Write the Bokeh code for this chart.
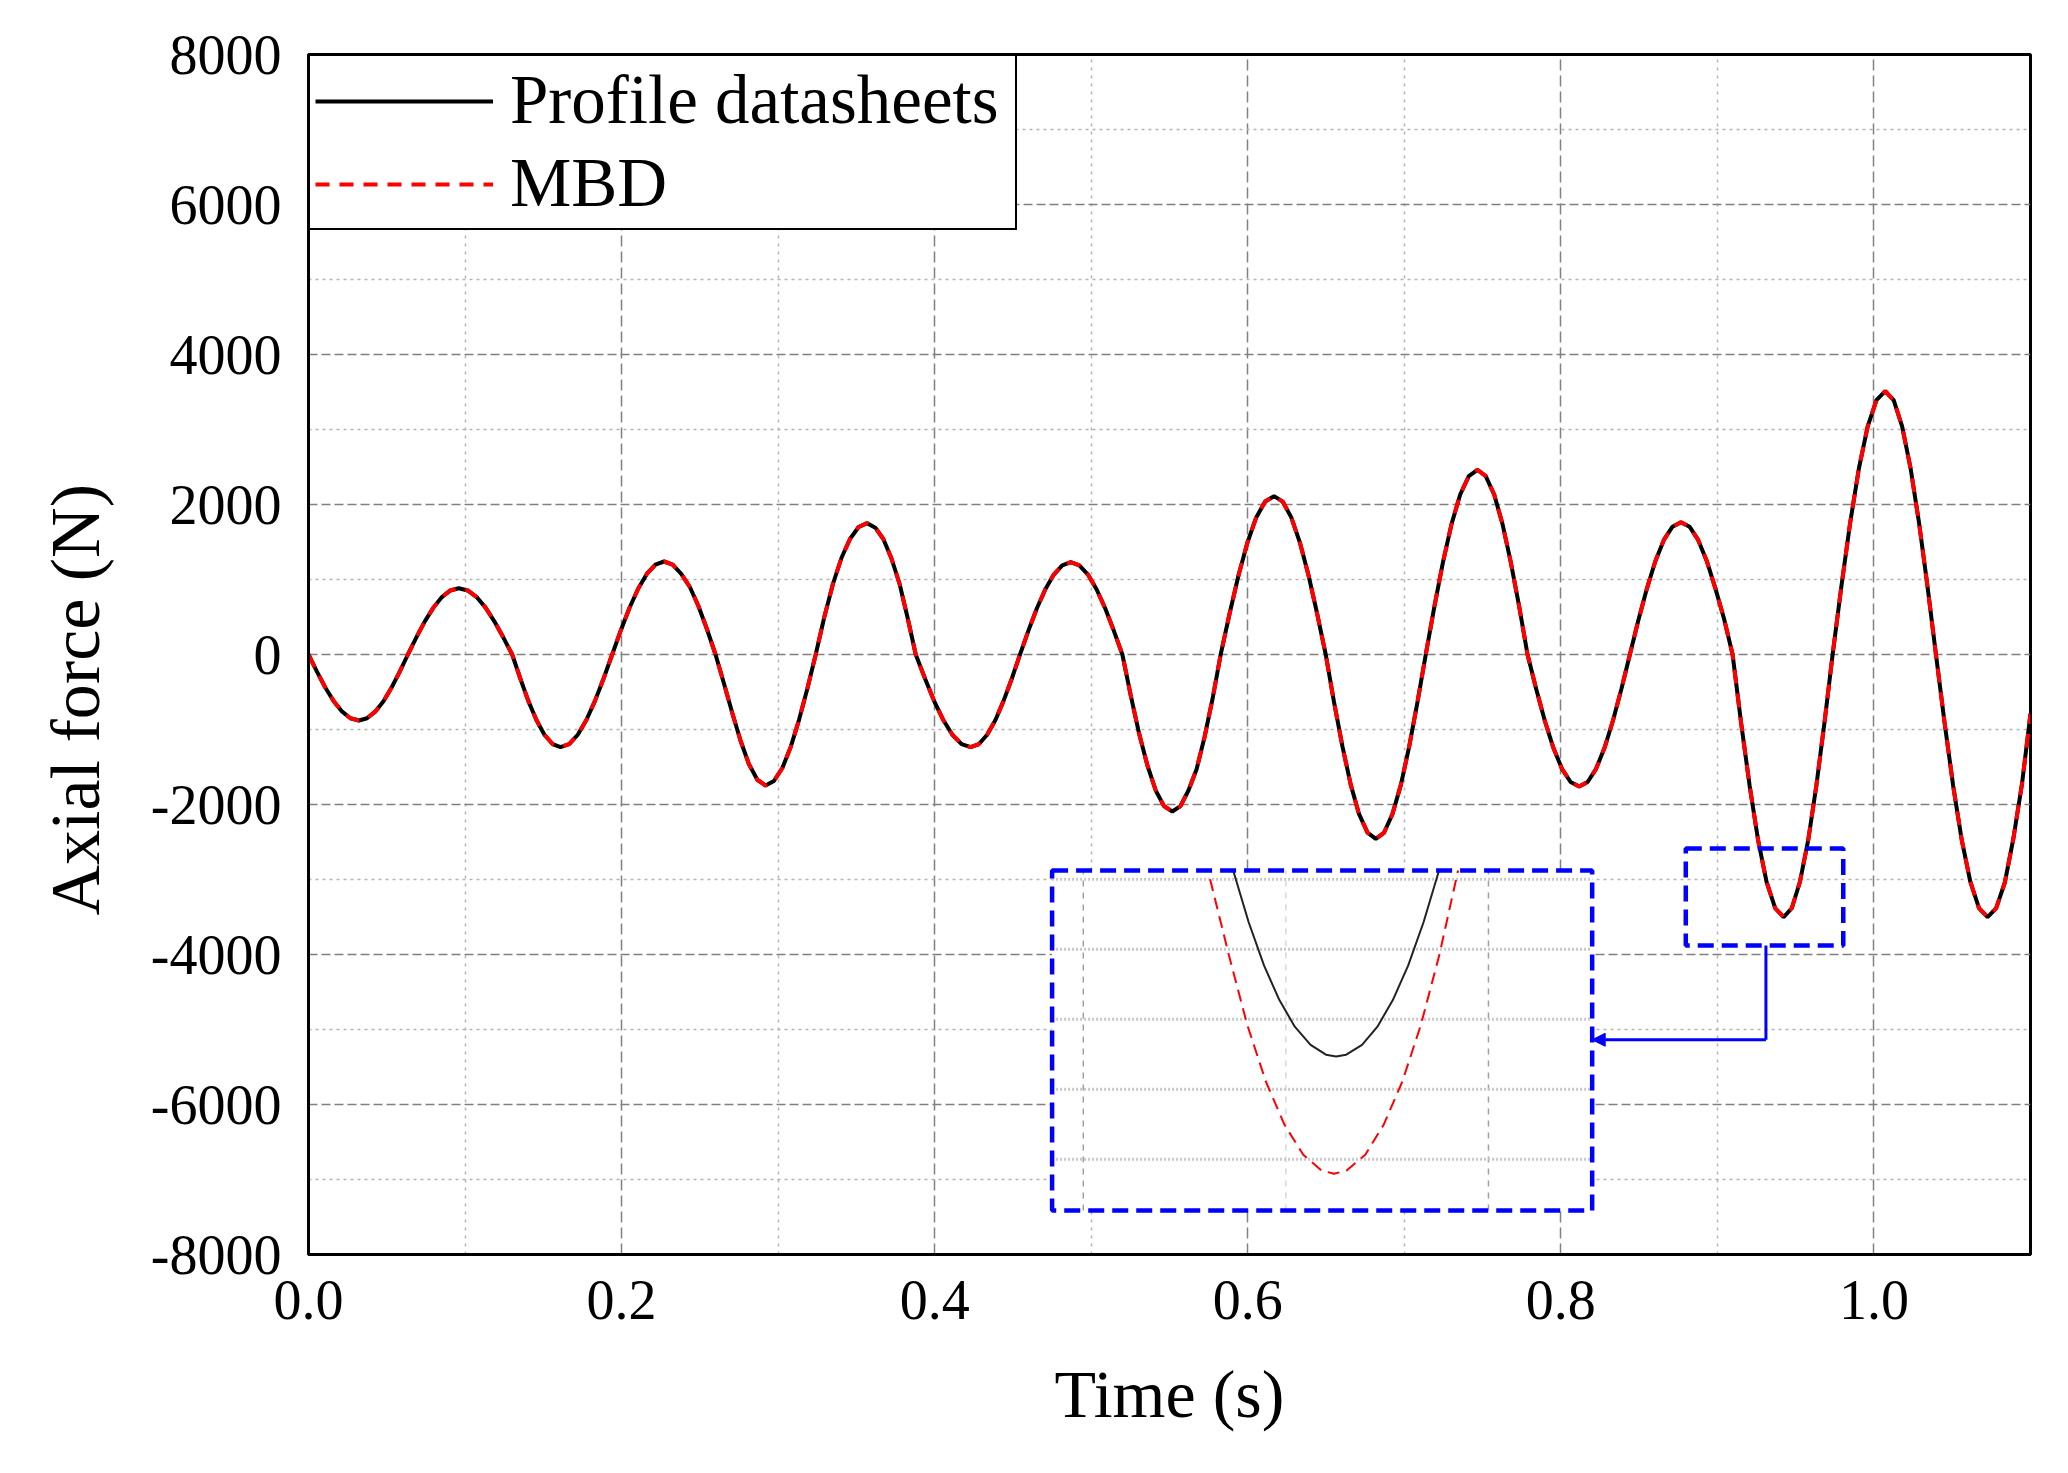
import numpy as np

from bokeh.plotting import figure
from bokeh.models import FixedTicker, PrintfTickFormatter, Range1d, Arrow, NormalHead, Title
from bokeh.embed import file_html
from bokeh.resources import INLINE

# ---- data ----
time_s = [0.0000, 0.0054, 0.0107, 0.0161, 0.0215, 0.0268, 0.0322,
          0.0374, 0.0426, 0.0479, 0.0531, 0.0583, 0.0635,
          0.0689, 0.0743, 0.0798, 0.0852, 0.0906, 0.0960,
          0.1017, 0.1074, 0.1131, 0.1187, 0.1244, 0.1301,
          0.1353, 0.1404, 0.1456, 0.1507, 0.1559, 0.1610,
          0.1665, 0.1720, 0.1775, 0.1830, 0.1885, 0.1940,
          0.1995, 0.2050, 0.2106, 0.2161, 0.2216, 0.2271,
          0.2326, 0.2381, 0.2436, 0.2490, 0.2545, 0.2600,
          0.2653, 0.2707, 0.2760, 0.2813, 0.2867, 0.2920,
          0.2973, 0.3027, 0.3080, 0.3133, 0.3187, 0.3240,
          0.3295, 0.3350, 0.3405, 0.3459, 0.3514, 0.3569,
          0.3621, 0.3672, 0.3724, 0.3776, 0.3827, 0.3879,
          0.3938, 0.3996, 0.4055, 0.4113, 0.4172, 0.4230,
          0.4283, 0.4335, 0.4388, 0.4440, 0.4493, 0.4545,
          0.4599, 0.4653, 0.4707, 0.4761, 0.4815, 0.4869,
          0.4924, 0.4979, 0.5034, 0.5089, 0.5144, 0.5199,
          0.5252, 0.5305, 0.5359, 0.5412, 0.5465, 0.5518,
          0.5570, 0.5621, 0.5673, 0.5724, 0.5776, 0.5827,
          0.5884, 0.5941, 0.5998, 0.6054, 0.6111, 0.6168,
          0.6223, 0.6278, 0.6333, 0.6388, 0.6443, 0.6498,
          0.6551, 0.6605, 0.6658, 0.6711, 0.6765, 0.6818,
          0.6871, 0.6924, 0.6978, 0.7031, 0.7084, 0.7137,
          0.7192, 0.7247, 0.7302, 0.7357, 0.7412, 0.7467,
          0.7520, 0.7574, 0.7627, 0.7680, 0.7734, 0.7787,
          0.7842, 0.7897, 0.7952, 0.8007, 0.8062, 0.8117,
          0.8171, 0.8225, 0.8279, 0.8333, 0.8387, 0.8441,
          0.8495, 0.8550, 0.8604, 0.8658, 0.8713, 0.8767,
          0.8822, 0.8877, 0.8932, 0.8987, 0.9042, 0.9097,
          0.9151, 0.9206, 0.9260, 0.9314, 0.9369, 0.9423,
          0.9475, 0.9527, 0.9580, 0.9632, 0.9684, 0.9736,
          0.9792, 0.9848, 0.9904, 0.9960, 1.0016, 1.0072,
          1.0126, 1.0180, 1.0234, 1.0288, 1.0342, 1.0396,
          1.0451, 1.0506, 1.0561, 1.0616, 1.0671, 1.0726,
          1.0781, 1.0836, 1.0891, 1.0946, 1.1000]

profile_force = [0, -228, -440, -622, -762, -850, -880,
                 -850, -762, -622, -440, -228, 0,
                 229, 442, 625, 766, 854, 884,
                 854, 766, 625, 442, 229, 0,
                 -320, -618, -874, -1070, -1194, -1236,
                 -1194, -1070, -874, -618, -320, 0,
                 321, 620, 877, 1074, 1198, 1240,
                 1198, 1074, 900, 650, 340, 0,
                 -380, -780, -1150, -1460, -1670, -1747,
                 -1687, -1513, -1235, -874, -452, 0,
                 500, 940, 1290, 1540, 1700, 1751,
                 1691, 1540, 1280, 940, 490, 0,
                 -320, -618, -874, -1070, -1194, -1236,
                 -1194, -1070, -874, -618, -320, 0,
                 319, 616, 870, 1066, 1189, 1231,
                 1189, 1066, 870, 616, 319, 0,
                 -542, -1047, -1480, -1813, -2022, -2093,
                 -2022, -1813, -1530, -1100, -580, 0,
                 546, 1056, 1493, 1828, 2039, 2111,
                 2039, 1828, 1493, 1056, 546, 0,
                 -636, -1229, -1738, -2129, -2374, -2458,
                 -2374, -2129, -1738, -1229, -636, 0,
                 637, 1232, 1742, 2133, 2379, 2463,
                 2379, 2133, 1742, 1232, 637, 0,
                 -456, -880, -1244, -1524, -1700, -1760,
                 -1700, -1524, -1244, -880, -456, 0,
                 457, 882, 1247, 1528, 1704, 1764,
                 1704, 1528, 1247, 882, 480, 0,
                 -906, -1751, -2476, -3033, -3383, -3502,
                 -3383, -3033, -2476, -1751, -906, 0,
                 909, 1756, 2483, 3041, 3391, 3511,
                 3391, 3041, 2483, 1756, 909, 0,
                 -906, -1751, -2476, -3033, -3383, -3502,
                 -3383, -3040, -2450, -1720, -790]

# MBD lies on top of the profile curve at full scale
mbd_force = list(profile_force)

# zoomed view around the trough near t = 0.94 s
inset_t_profile = [0.94370, 0.94408, 0.94446, 0.94484, 0.94522, 0.94561, 0.94599, 0.94624,
                   0.94649, 0.94688, 0.94726, 0.94764, 0.94802, 0.94840, 0.94878]
inset_f_profile = [-3437.5, -3452.2, -3464.6, -3474.5, -3482.1, -3487.3, -3490.1, -3490.6,
                   -3490.1, -3487.3, -3482.1, -3474.5, -3464.6, -3452.2, -3437.5]
inset_t_mbd = [0.94313, 0.94359, 0.94405, 0.94451, 0.94497, 0.94543, 0.94588, 0.94619,
               0.94650, 0.94696, 0.94741, 0.94787, 0.94833, 0.94879, 0.94925]
inset_f_mbd = [-3440.0, -3461.5, -3481.7, -3497.9, -3510.2, -3518.7, -3523.2, -3524.1,
               -3523.2, -3518.7, -3510.2, -3497.9, -3481.7, -3461.5, -3437.5]

x_ticks = [0.0, 0.2, 0.4, 0.6, 0.8, 1.0]
x_minor = [0.1, 0.3, 0.5, 0.7, 0.9, 1.1]
y_ticks = [-8000, -6000, -4000, -2000, 0, 2000, 4000, 6000, 8000]
y_minor = [-7000, -5000, -3000, -1000, 1000, 3000, 5000, 7000]

inset_grid_t = [0.940, 0.945, 0.950]
inset_grid_f = [-3440, -3460, -3480, -3500, -3520]

# ---- layout of the inset (main data units) ----
FONT = "Liberation Serif"
X_RANGE = (0.0, 1.1)
Y_RANGE = (-8000, 8000)
INSET_BOX = (0.475, 0.820, -7413, -2880)      # left, right, bottom, top
INSET_VIEW = (0.93923, 0.95256, -3534.6, -3437.5)
ZOOM_BOX = (0.8798, 0.9804, -3880, -2587)
ARROW_X, ARROW_Y = 0.931, -5137


def extra_range(lo, hi, v0, v1, rng):
    """range whose v0..v1 lands on lo..hi of the main range"""
    a = (lo - rng[0]) / (rng[1] - rng[0])
    b = (hi - rng[0]) / (rng[1] - rng[0])
    span = (v1 - v0) / (b - a)
    start = v0 - a * span
    return Range1d(start, start + span)


p = figure(frame_width=1722, frame_height=1200,
           x_range=X_RANGE, y_range=Y_RANGE,
           output_backend="svg", toolbar_location=None,
           min_border_left=308, min_border_right=20,
           min_border_top=54, min_border_bottom=200,
           background_fill_color="white", border_fill_color="white")

p.extra_x_ranges = {"ix": extra_range(INSET_BOX[0], INSET_BOX[1], INSET_VIEW[0], INSET_VIEW[1], X_RANGE)}
p.extra_y_ranges = {"iy": extra_range(INSET_BOX[2], INSET_BOX[3], INSET_VIEW[2], INSET_VIEW[3], Y_RANGE)}

# axes
p.xaxis.ticker = FixedTicker(ticks=x_ticks, minor_ticks=x_minor)
p.yaxis.ticker = FixedTicker(ticks=y_ticks, minor_ticks=y_minor)
p.xaxis.formatter = PrintfTickFormatter(format="%.1f")
p.yaxis.formatter = PrintfTickFormatter(format="%d")
p.xaxis.axis_label = "Time (s)"
for ax in (p.xaxis, p.yaxis):
    ax.axis_label_text_font = FONT
    ax.axis_label_text_font_size = "68px"
    ax.axis_label_text_font_style = "normal"
    ax.axis_label_text_color = "black"
    ax.major_label_text_font = FONT
    ax.major_label_text_font_size = "56px"
    ax.major_label_text_color = "black"
    ax.major_tick_in = 0
    ax.major_tick_out = 0
    ax.minor_tick_in = 0
    ax.minor_tick_out = 0
    ax.axis_line_color = "black"
    ax.axis_line_width = 3
p.xaxis.major_label_standoff = 26
p.xaxis.axis_label_standoff = 34
p.yaxis.major_label_standoff = 27

# y label: a side title, so it can sit a bit below the frame centre like the original
p.add_layout(Title(text="Axial force (N)", align="left", offset=339, standoff=68,
                   text_font=FONT, text_font_size="70px", text_font_style="normal",
                   text_color="black"), "left")

p.outline_line_color = "black"
p.outline_line_width = 3
p.outline_line_alpha = 1.0

# grid
p.xgrid.grid_line_color = "#808080"
p.xgrid.grid_line_dash = "11 5"
p.xgrid.grid_line_width = 1.5
p.xgrid.minor_grid_line_color = "#b4b4b4"
p.xgrid.minor_grid_line_dash = "3 5"
p.xgrid.minor_grid_line_width = 1.5
p.ygrid.grid_line_color = "#808080"
p.ygrid.grid_line_dash = "9 4"
p.ygrid.grid_line_width = 1.5
p.ygrid.minor_grid_line_color = "#b4b4b4"
p.ygrid.minor_grid_line_dash = "3 4"
p.ygrid.minor_grid_line_width = 1.5

# curves
p.line(time_s, profile_force, line_color="black", line_width=4,
       legend_label="Profile datasheets")
p.line(time_s, mbd_force, line_color="red", line_width=4, line_dash="14 10",
       legend_label="MBD")

# inset panel
p.quad(left=[INSET_BOX[0]], right=[INSET_BOX[1]], bottom=[INSET_BOX[2]], top=[INSET_BOX[3]],
       fill_color="white", line_color=None)
n_t = len(inset_grid_t)
p.segment(x0=inset_grid_t, x1=inset_grid_t,
          y0=[INSET_VIEW[2]] * n_t, y1=[INSET_VIEW[3]] * n_t,
          line_color=["#a0a0a0", "#d8d8d8", "#a0a0a0"], line_width=1.5, line_dash="6 6",
          x_range_name="ix", y_range_name="iy")
n_f = len(inset_grid_f)
p.segment(x0=[INSET_VIEW[0]] * n_f, x1=[INSET_VIEW[1]] * n_f,
          y0=inset_grid_f, y1=inset_grid_f,
          line_color="#c8c8c8", line_width=3, line_dash="2 2",
          x_range_name="ix", y_range_name="iy")
p.line(inset_t_profile, inset_f_profile, line_color="#222222", line_width=2,
       x_range_name="ix", y_range_name="iy")
p.line(inset_t_mbd, inset_f_mbd, line_color="red", line_width=2, line_dash="12 7",
       x_range_name="ix", y_range_name="iy")
p.quad(left=[INSET_BOX[0]], right=[INSET_BOX[1]], bottom=[INSET_BOX[2]], top=[INSET_BOX[3]],
       fill_color=None, line_color="blue", line_width=4.5, line_dash="16 8")

# zoom window + pointer
p.quad(left=[ZOOM_BOX[0]], right=[ZOOM_BOX[1]], bottom=[ZOOM_BOX[2]], top=[ZOOM_BOX[3]],
       fill_color=None, line_color="blue", line_width=4.5, line_dash="16 8")
p.line([ARROW_X, ARROW_X], [ZOOM_BOX[2], ARROW_Y], line_color="blue", line_width=3)
p.add_layout(Arrow(end=NormalHead(size=13, fill_color="blue", line_color="blue"),
                   x_start=ARROW_X, y_start=ARROW_Y, x_end=INSET_BOX[1], y_end=ARROW_Y,
                   line_color="blue", line_width=3))

# legend
p.legend.location = "top_left"
p.legend.margin = 0
p.legend.padding = 5
p.legend.spacing = 4
p.legend.glyph_width = 178
p.legend.label_standoff = 17
p.legend.label_width = 500
p.legend.label_text_font = FONT
p.legend.label_text_font_size = "69px"
p.legend.label_text_color = "black"
p.legend.border_line_color = "black"
p.legend.border_line_width = 2
p.legend.border_line_alpha = 1.0
p.legend.background_fill_alpha = 1.0

open("out.html", "w").write(file_html(p, INLINE))
